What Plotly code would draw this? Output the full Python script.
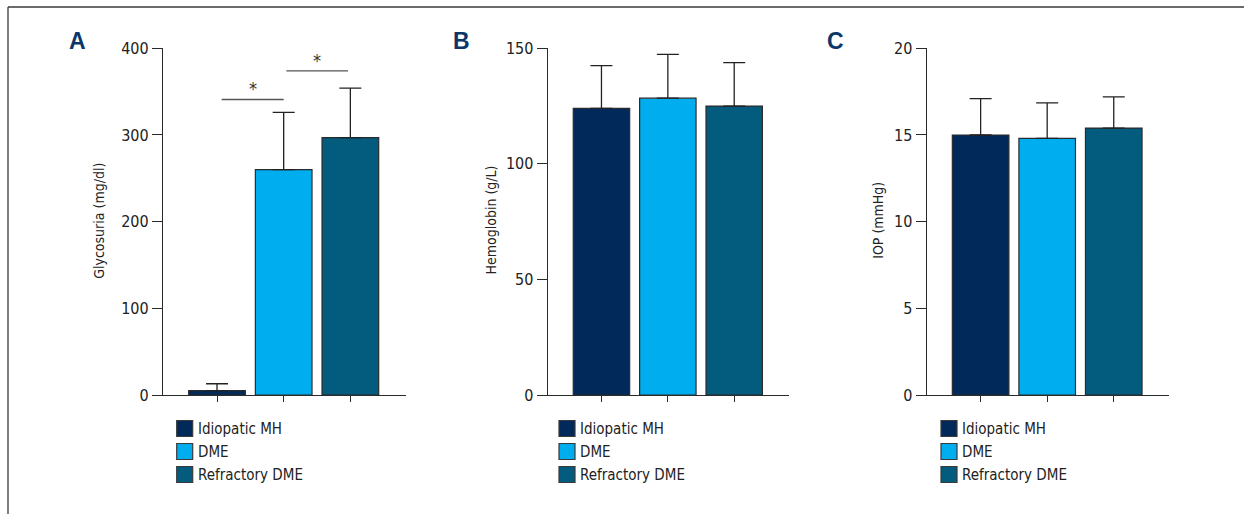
import plotly.graph_objects as go

# Groups and their fill colours
groups = ["Idiopatic MH", "DME", "Refractory DME"]
colors = ["#012a5a", "#00adef", "#035b7e"]

# Panel A: glycosuria (mg/dl), mean and SD
glyco_mean = [5, 260, 297]
glyco_sd = [8, 66, 57]

# Panel B: hemoglobin (g/L)
hb_mean = [124, 128.4, 125]
hb_sd = [18.5, 19, 18.8]

# Panel C: IOP (mmHg)
iop_mean = [15.0, 14.8, 15.4]
iop_sd = [2.1, 2.05, 1.8]

panel_letters = ["A", "B", "C"]
y_titles = ["Glycosuria (mg/dl)", "Hemoglobin (g/L)", "IOP (mmHg)"]
y_ranges = [[0, 400], [0, 150], [0, 20]]
y_dticks = [100, 50, 5]

# Significance brackets in panel A: (from group, to group, label)
sig_pairs = [(0, 1, "*"), (1, 2, "*")]
sig_heights = [341, 374]

W, H = 1244, 514
FAMILY = "DejaVu Sans Condensed, DejaVu Sans, sans-serif"
AXIS_COLOR = "#2b2b2b"


def narrow(size, color="#222222"):
    return dict(family=FAMILY, size=size, color=color)


# Pixel layout of the three panels (left/right edge of x axis)
x_domains_px = [(163, 405.7), (547.7, 789.3), (926.7, 1169)]
y_bottom_px, y_top_px = 395, 48.3
legend_sq_px = [176.7, 559, 941]
title_x_px = [98.3, 490, 877.3]
letter_x_px = [77.5, 461, 835]

fig = go.Figure()

series = [(glyco_mean, glyco_sd), (hb_mean, hb_sd), (iop_mean, iop_sd)]
cats = list(range(len(groups)))

for p, (means, sds) in enumerate(series):
    xa = "x" if p == 0 else f"x{p + 1}"
    ya = "y" if p == 0 else f"y{p + 1}"
    fig.add_trace(go.Bar(
        x=cats, y=means,
        xaxis=xa, yaxis=ya,
        width=0.85,
        marker=dict(color=colors, line=dict(color="#2b2b2b", width=1.2)),
        error_y=dict(type="data", symmetric=False, array=sds,
                     arrayminus=[0] * len(sds),
                     color="#222222", thickness=1.3, width=11),
        showlegend=False,
        hovertext=groups,
    ))

layout_axes = {}
for p in range(3):
    sx = "" if p == 0 else str(p + 1)
    x0, x1 = x_domains_px[p]
    layout_axes[f"xaxis{sx}"] = dict(
        domain=[x0 / W, x1 / W], range=[-0.81, 2.83],
        anchor=f"y{sx}", showgrid=False, zeroline=False,
        showline=True, linecolor=AXIS_COLOR, linewidth=1.3,
        ticks="outside", ticklen=6, tickwidth=1.3, tickcolor=AXIS_COLOR,
        tickvals=cats, showticklabels=False, fixedrange=True,
        automargin=False,
    )
    layout_axes[f"yaxis{sx}"] = dict(
        domain=[(H - y_bottom_px) / H, (H - y_top_px) / H],
        range=y_ranges[p], dtick=y_dticks[p],
        anchor=f"x{sx}", showgrid=False, zeroline=False,
        showline=True, linecolor=AXIS_COLOR, linewidth=1.3,
        ticks="outside", ticklen=10, tickwidth=1.3, tickcolor=AXIS_COLOR,
        tickfont=narrow(16), fixedrange=True, automargin=False,
    )

annotations = []
shapes = []

for p in range(3):
    # Panel letter
    annotations.append(dict(
        text=f"<b>{panel_letters[p]}</b>", x=letter_x_px[p] / W, y=(H - 41) / H,
        xref="paper", yref="paper", showarrow=False,
        font=dict(family="Liberation Sans, Arial, sans-serif", size=23, color="#0b3668"),
        xanchor="center", yanchor="middle",
    ))
    # Y axis title
    annotations.append(dict(
        text=y_titles[p], x=title_x_px[p] / W, y=(H - 220.5) / H,
        xref="paper", yref="paper", showarrow=False, textangle=-90,
        font=narrow(14),
        xanchor="center", yanchor="middle",
    ))
    # Legend block
    sq = 16
    for i, g in enumerate(groups):
        cy = 428.5 + i * 23
        sx0 = legend_sq_px[p]
        shapes.append(dict(
            type="rect", xref="paper", yref="paper",
            x0=sx0 / W, x1=(sx0 + sq) / W,
            y0=(H - (cy + sq / 2)) / H, y1=(H - (cy - sq / 2)) / H,
            fillcolor=colors[i], line=dict(color="#3a3a3a", width=1.2),
        ))
        annotations.append(dict(
            text=g, x=(sx0 + sq + 3) / W, y=(H - cy) / H,
            xref="paper", yref="paper", showarrow=False,
            font=narrow(15),
            xanchor="left", yanchor="middle",
        ))

# Significance brackets for panel A
for (a, b, lab), h in zip(sig_pairs, sig_heights):
    xa0 = a + 0.07 if a == 0 else a + 0.04
    xb1 = b if a == 0 else b - 0.035
    shapes.append(dict(
        type="line", xref="x", yref="y", x0=xa0, x1=xb1, y0=h, y1=h,
        line=dict(color="#555555", width=1.4),
    ))
    annotations.append(dict(
        text=lab, x=(xa0 + xb1) / 2, y=h, xref="x", yref="y",
        showarrow=False, yanchor="bottom", yshift=-2,
        font=narrow(18, "#333333"),
    ))

# Outer frame: top and left edges
shapes.append(dict(type="line", xref="paper", yref="paper",
                   x0=8 / W, x1=1, y0=(H - 7) / H, y1=(H - 7) / H,
                   line=dict(color="#3a3a3a", width=1.3)))
shapes.append(dict(type="line", xref="paper", yref="paper",
                   x0=8 / W, x1=8 / W, y0=0, y1=(H - 7) / H,
                   line=dict(color="#3a3a3a", width=1.3)))

fig.update_layout(
    width=W, height=H, autosize=False,
    margin=dict(l=0, r=0, t=0, b=0, autoexpand=False),
    paper_bgcolor="white", plot_bgcolor="white",
    bargap=0.15,
    annotations=annotations, shapes=shapes,
    **layout_axes,
)

fig.write_html("out.html", config={"displayModeBar": False})
